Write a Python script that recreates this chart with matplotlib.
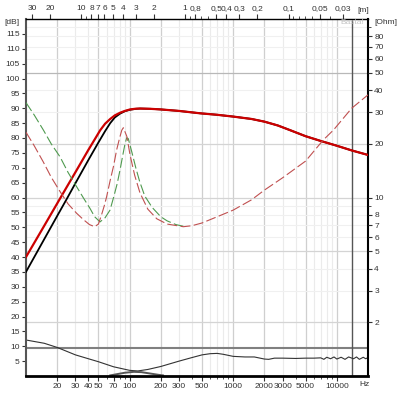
import matplotlib
matplotlib.use('Agg')
import matplotlib.pyplot as plt
from matplotlib.transforms import blended_transform_factory

plt.rcParams['font.family'] = ['Liberation Sans', 'DejaVu Sans']

# SPL curves [dB]
spl_hi_f = [160, 200, 300, 480, 700, 1000, 1500, 2000, 2700, 3500, 5000, 7000, 10000, 14000, 20000]
spl_hi_db = [89.8, 89.6, 89.1, 88.3, 87.8, 87.2, 86.4, 85.5, 84.2, 82.7, 80.6, 79.0, 77.4, 75.8, 74.3]
red_lo_f = [10, 15, 20, 25, 30, 40, 46, 52, 58, 65, 72, 81, 90, 101, 115, 126]
red_lo_db = [40, 50.5, 58, 63.8, 68.5, 76, 79.5, 82.6, 84.8, 86.4, 87.6, 88.5, 89.1, 89.6, 89.85, 89.9]
black_lo_f = [10, 15, 20, 25, 30, 40, 50, 58, 65, 72, 81, 90, 101, 115, 126]
black_lo_db = [35, 46, 53.8, 59.8, 64.8, 72.6, 78.5, 82.3, 85, 86.9, 88.2, 89, 89.5, 89.8, 89.9]

# impedance curves [Ohm]
zr_f = [10, 12, 14.7, 17.5, 21.3, 25.5, 30.8, 36, 41, 46, 50, 53.6, 57, 60, 65, 70, 75, 80, 84, 87,
        94, 101, 112, 126, 150, 183, 230, 330, 400, 500, 700, 1000, 1500, 2000, 3000, 5000, 7400,
        9300, 13900, 20000]
zr_ohm = [23.2, 19.5, 15.8, 13.0, 10.8, 9.2, 8.16, 7.5, 7.05, 6.86, 7.1, 8.0, 9.0, 10.1, 12.5, 15.0,
          18.5, 21.5, 23.8, 24.6, 22.0, 17.3, 13.3, 10.6, 8.6, 7.6, 7.1, 6.86, 6.95, 7.2, 7.8, 8.5,
          9.7, 11.0, 12.9, 16.0, 21.0, 23.9, 31.6, 37.6]
zg_f = [10, 12, 14.7, 17.5, 21.3, 25.5, 30.8, 36, 41.4, 46, 51.8, 58, 64.7, 70, 76, 80.9, 86, 90,
        93.7, 97, 105, 115, 125, 140, 165, 200, 230, 280, 330]
zg_ohm = [34, 29, 23.9, 20, 16.9, 13.8, 11.5, 9.9, 8.7, 7.8, 7.3, 7.7, 8.5, 10.0, 12.0, 14.3, 17.3,
          19.8, 21.6, 21.4, 18.0, 14.6, 12.3, 10.2, 8.8, 7.8, 7.4, 7.05, 6.9]

# lower curves [dB]
low_f = [10, 15, 20, 30, 40, 50, 70, 100, 120, 150, 200, 300, 400, 500, 600, 700, 800, 1000, 1300,
         1600, 2000, 2200, 2500, 3000, 4000, 5000, 6000, 7000, 7500, 8000, 8700, 9400, 10000,
         11000, 12000, 13000, 14500, 15500, 16500, 18000, 19000, 20000]
low_db = [12.1, 11.0, 9.6, 7.1, 5.8, 4.8, 3.1, 1.9, 1.7, 2.2, 3.2, 5.0, 6.2, 7.1, 7.5, 7.6, 7.3, 6.6,
          6.4, 6.4, 5.7, 5.6, 6.0, 6.0, 5.9, 6.0, 6.0, 6.1, 5.6, 6.3, 5.8, 6.4, 5.7, 6.3, 5.6, 6.4,
          5.8, 6.4, 5.6, 6.3, 5.8, 6.2]
hump_f = [65, 75, 90, 110, 130, 160, 190, 210]
hump_db = [0.2, 0.6, 1.1, 1.4, 1.3, 0.8, 0.4, 0.2]

ref_level = 9.5
marker_f = 13900

db_ticks = list(range(5, 120, 5))
ohm_ticks = [2, 3, 4, 5, 6, 7, 8, 10, 20, 30, 40, 50, 60, 70, 80]
ohm_minor = [9, 90]
hz_ticks = [20, 30, 40, 50, 70, 100, 200, 300, 500, 1000, 2000, 3000, 5000, 10000]
hz_minor = [60, 80, 90, 400, 600, 700, 800, 900, 4000, 6000, 7000, 8000, 9000]
m_ticks = [30, 20, 10, 8, 7, 6, 5, 4, 3, 2, 1, 0.8, 0.5, 0.4, 0.3, 0.2, 0.1, 0.05, 0.03]
m_minor = [9, 0.9, 0.7, 0.6, 0.09, 0.08, 0.07, 0.06, 0.04]

fig = plt.figure(figsize=(4.0, 3.99), dpi=100)
ax = fig.add_axes([26 / 400, 1 - 376 / 399, 342 / 400, 357 / 399])
ax.set_xscale('log')
ax.set_xlim(10, 20000)
ax.set_ylim(0, 120)

ax2 = ax.twinx()
ax2.set_yscale('log')
ax2.set_ylim(1, 100)

# grid
for f in [20, 50, 100, 200, 500, 1000, 2000, 5000, 10000]:
    ax.axvline(f, color='#cfcfcf', lw=0.9, zorder=0)
for f in [30, 40, 60, 70, 80, 90, 300, 400, 600, 700, 800, 900, 3000, 4000, 6000, 7000, 8000, 9000]:
    ax.axvline(f, color='#ebebeb', lw=0.8, zorder=0)
tr = blended_transform_factory(ax.transAxes, ax2.transData)
for o in [3, 4, 6, 7, 8, 9, 30, 40, 60, 70, 80, 90]:
    ax.plot([0, 1], [o, o], transform=tr, color='#f0f0f0', lw=0.8, zorder=0)
for o in [2, 5, 10, 20]:
    ax.plot([0, 1], [o, o], transform=tr, color='#d4d4d4', lw=0.9, zorder=0)
ax.plot([0, 1], [50, 50], transform=tr, color='#b8b8b8', lw=0.9, zorder=0)

ax.axhline(ref_level, color='#808080', lw=1.5, zorder=1)
ax.axvline(marker_f, color='#555555', lw=1.0, zorder=1)

ax.plot(low_f, low_db, color='#333333', lw=0.8, zorder=2)
ax.plot(hump_f, hump_db, color='#555555', lw=1.4, zorder=2)

ax.plot(black_lo_f + spl_hi_f, black_lo_db + spl_hi_db, color='black', lw=1.3, zorder=3)
ax.plot(red_lo_f + spl_hi_f, red_lo_db + spl_hi_db, color='#cc0000', lw=1.6, zorder=4)

ax2.plot(zg_f, zg_ohm, color='#4f9a4f', lw=0.8, dashes=(9, 3))
ax2.plot(zr_f, zr_ohm, color='#c05050', lw=0.8, dashes=(9, 3), dash_capstyle='butt')

# axes styling
for side, c, w in [('left', '#555555', 1.5), ('bottom', 'black', 2.0),
                   ('top', 'black', 1.0), ('right', 'black', 1.5)]:
    ax.spines[side].set_color(c)
    ax.spines[side].set_linewidth(w)
    ax2.spines[side].set_visible(False)

ax.set_yticks(db_ticks)
ax.set_yticklabels([str(v) for v in db_ticks])
ax.set_xticks(hz_ticks)
ax.set_xticklabels([str(v) for v in hz_ticks])
ax.set_xticks(hz_minor, minor=True)
ax.set_xticklabels([], minor=True)
ax.tick_params(axis='both', which='both', labelsize=6, colors='#333333', direction='out', pad=1.5)
ax.tick_params(axis='x', which='major', length=3.5)
ax.tick_params(axis='x', which='minor', length=2.5)
ax.tick_params(axis='y', which='major', length=3)
ax.yaxis.set_tick_params(which='minor', left=False)

ax2.set_yticks(ohm_ticks)
ax2.set_yticklabels([str(v) for v in ohm_ticks])
ax2.set_yticks(ohm_minor, minor=True)
ax2.set_yticklabels([], minor=True)
ax2.tick_params(axis='y', which='both', labelsize=6, colors='#333333', direction='out', pad=1.5)
ax2.tick_params(axis='y', which='major', length=3)
ax2.tick_params(axis='y', which='minor', length=2)

sec = ax.secondary_xaxis('top', functions=(lambda f: 343.0 / f, lambda l: 343.0 / l))
sec.set_xticks(m_ticks)
sec.set_xticklabels([('%g' % v).replace('.', ',') for v in m_ticks])
sec.set_xticks(m_minor, minor=True)
sec.set_xticklabels([], minor=True)
sec.tick_params(axis='x', which='both', labelsize=6, colors='#333333', direction='out', pad=1.5)
sec.tick_params(axis='x', which='major', length=3.5)
sec.tick_params(axis='x', which='minor', length=2.5)
sec.spines['top'].set_visible(False)

fig.text(4 / 400, 1 - 22 / 399, '[dB]', fontsize=6, color='#333333', va='center', ha='left')
fig.text(363 / 400, 1 - 10 / 399, '[m]', fontsize=6, color='#333333', va='center', ha='center')
fig.text(386 / 400, 1 - 22 / 399, '[Ohm]', fontsize=6, color='#333333', va='center', ha='center')
fig.text(364 / 400, 1 - 384 / 399, 'Hz', fontsize=6, color='#333333', va='center', ha='center')
fig.text(352 / 400, 1 - 23 / 399, 'Basta!', fontsize=6, color='#c4c4c4', va='center', ha='center')

fig.savefig('out.png', dpi=100)
